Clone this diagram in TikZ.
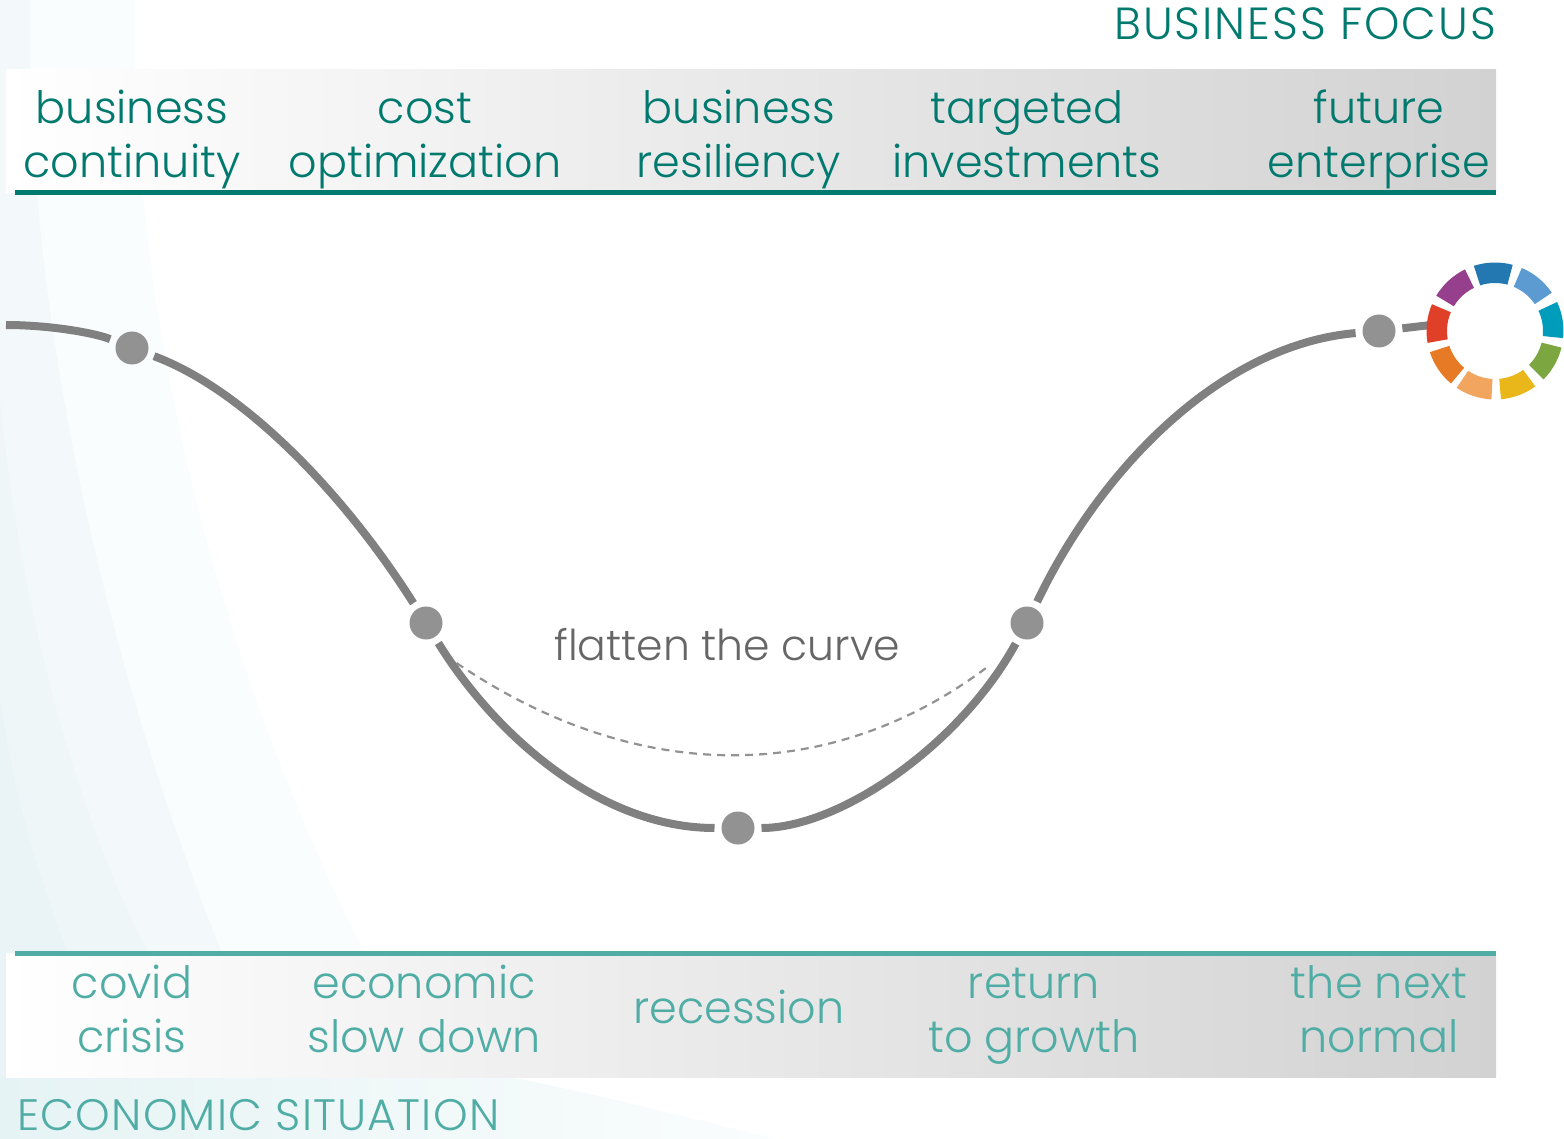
\documentclass[tikz,border=0pt]{standalone}
\usepackage{fontspec}
\setmainfont{Poppins Light}
\newfontfamily\capsA[LetterSpace=4.4]{Poppins Light}
\newfontfamily\capsB[LetterSpace=2.8]{Poppins Light}
\definecolor{tealdark}{HTML}{00796F}
\definecolor{teallight}{HTML}{4FADA5}
\definecolor{curvegrey}{HTML}{808080}
\definecolor{dotgrey}{HTML}{929292}
\definecolor{bandend}{HTML}{D2D2D2}
\definecolor{bgA}{HTML}{FAFDFD}
\definecolor{bgB}{HTML}{F3F9FA}
\definecolor{bgC}{HTML}{EFF6F8}
\definecolor{bgD}{HTML}{EAF4F6}
\definecolor{stripL}{HTML}{E6F3F4}
\definecolor{segA}{HTML}{2478B2}
\definecolor{segB}{HTML}{5B9BD2}
\definecolor{segC}{HTML}{009CBC}
\definecolor{segD}{HTML}{7BA640}
\definecolor{segE}{HTML}{EAB71A}
\definecolor{segF}{HTML}{F1A55F}
\definecolor{segG}{HTML}{E77A25}
\definecolor{segH}{HTML}{E04027}
\definecolor{segI}{HTML}{963F8C}
\tikzset{
  x=1pt,y=-1pt,
  band/.style={left color=white,right color=bandend,draw=none},
  toptext/.style={text=tealdark,font=\fontsize{44.5}{54}\selectfont,align=center,inner sep=0pt},
  bottext/.style={text=teallight,font=\fontsize{44.5}{54}\selectfont,align=center,inner sep=0pt},
  headtext/.style={inner sep=0pt},
  curveline/.style={draw=curvegrey,line width=8pt},
  dot/.style={circle,fill=dotgrey,minimum size=33pt,inner sep=0pt,outer sep=7pt},
  dashcurve/.style={draw=dotgrey,line width=2.2pt,dash pattern=on 8pt off 6pt},
}
\newcommand{\ringseg}[3]{\fill[#3] ([shift={(#1:68.5pt)}]ring) arc[start angle=#1,end angle=#2,radius=68.5pt] -- ([shift={(#2:48pt)}]ring) arc[start angle=#2,end angle=#1,radius=48pt] -- cycle;}
\begin{document}
\begin{tikzpicture}
\useasboundingbox (0,0) rectangle (1564,1139);
% pale background sweeps
\fill[bgA] (30,0) -- (135,0) .. controls (130,300) and (210,650) .. (365,953) -- (0,953) -- (0,0) -- cycle;
\fill[bgB] (0,0) -- (30,0) .. controls (25,300) and (100,650) .. (222,953) -- (0,953) -- cycle;
\fill[bgC] (0,400) .. controls (20,600) and (70,800) .. (148,953) -- (0,953) -- cycle;
\fill[bgD] (0,700) .. controls (15,800) and (40,880) .. (68,953) -- (0,953) -- cycle;
\fill[bgD] (0,953) rectangle (6,1077);
\shade[left color=stripL,right color=bgA] (0,1077) -- (510,1077) .. controls (600,1095) and (700,1120) .. (775,1139) -- (0,1139) -- cycle;
% bands
\shade[band] (6,70) rectangle (1496,193);
\shade[band] (6,953) rectangle (1496,1077);
\coordinate (tl) at (15,193);
\coordinate (tr) at (1496,193);
\coordinate (bl) at (15,953);
\coordinate (br) at (1496,953);
\draw[tealdark,line width=5pt] (tl) -- (tr);
\draw[teallight,line width=5pt] (bl) -- (br);
% labels
\node[headtext,text=tealdark,anchor=base east,font=\capsA\fontsize{45}{50}\selectfont] (focus) at (1496,40) {BUSINESS FOCUS};
\node[headtext,text=teallight,anchor=base west,font=\capsB\fontsize{44}{50}\selectfont] (situation) at (17,1130) {ECONOMIC SITUATION};
\node[toptext] (t1) at (132,140) {\strut business\\\strut continuity};
\node[toptext] (t2) at (425,140) {\strut cost\\\strut optimization};
\node[toptext] (t3) at (739,140) {\strut business\\\strut resiliency};
\node[toptext] (t4) at (1027,140) {\strut targeted\\\strut investments};
\node[toptext] (t5) at (1379,140) {\strut future\\\strut enterprise};
\node[bottext] (b1) at (132,1015) {\strut covid\\\strut crisis};
\node[bottext] (b2) at (424,1015) {\strut economic\\\strut slow down};
\node[bottext] (b3) at (739,1013) {\strut recession};
\node[bottext] (b4) at (1034,1015) {\strut return\\\strut to growth};
\node[bottext] (b5) at (1379,1015) {\strut the next\\\strut normal};
\node[headtext,text=black!60,font=\fontsize{42.5}{48}\selectfont] (flat) at (727,645) {flatten the curve};
% curve
\coordinate (start) at (6,325);
\coordinate (ringend) at (1431,325);
\node[dot] (n1) at (132,348) {};
\node[dot] (n2) at (426,623) {};
\node[dot] (n3) at (738,828) {};
\node[dot] (n4) at (1027,623) {};
\node[dot] (n5) at (1379,331) {};
\coordinate (d1) at (445,655);
\coordinate (d2) at (990,665);
\draw[dashcurve] (d1) .. controls (631,787) and (830,787) .. (d2);
\draw[curveline] (start) .. controls (50,325) and (95,333) .. (n1);
\draw[curveline] (n1) .. controls (245,390) and (345,495) .. (n2);
\draw[curveline] (n2) .. controls (495,735) and (600,828) .. (n3);
\draw[curveline] (n3) .. controls (840,828) and (960,745) .. (n4);
\draw[curveline] (n4) .. controls (1100,470) and (1220,345) .. (n5);
\draw[curveline] (n5) -- (ringend);
% ring
\coordinate (ring) at (1495,331);
\ringseg{75}{108}{segA}
\ringseg{34}{67}{segB}
\ringseg{-6}{25}{segC}
\ringseg{-45}{-14}{segD}
\ringseg{-85}{-54}{segE}
\ringseg{-124}{-93}{segF}
\ringseg{-162}{-130}{segG}
\ringseg{157}{190}{segH}
\ringseg{116}{149}{segI}
\end{tikzpicture}
\end{document}
